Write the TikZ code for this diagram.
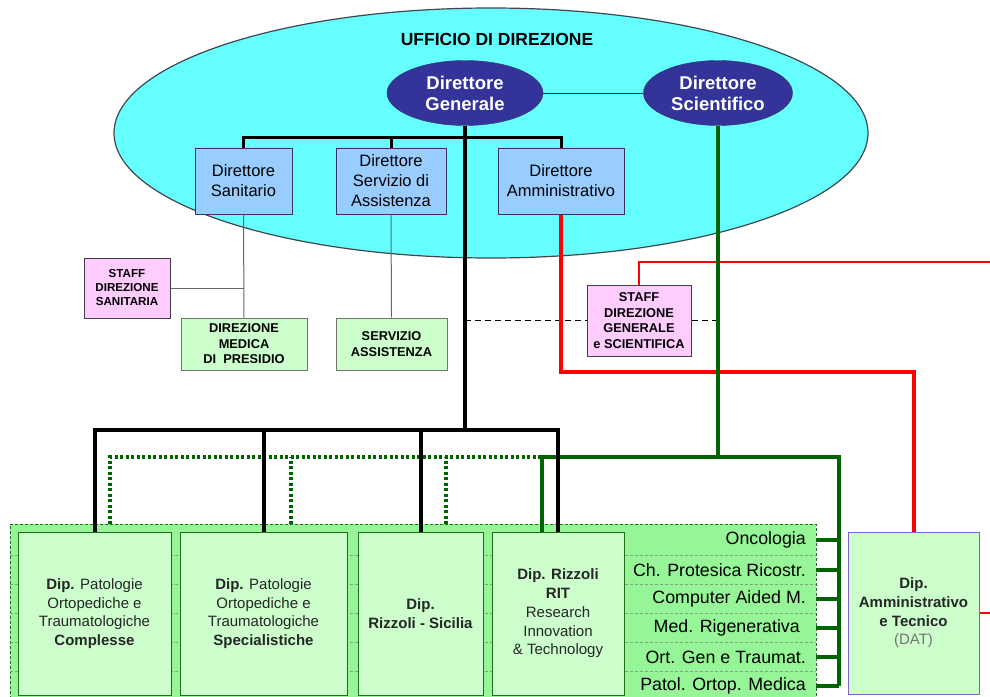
\documentclass[tikz,border=0pt]{standalone}
\usepackage{fontspec}
\setmainfont{Liberation Sans}
\usetikzlibrary{shapes.geometric, positioning, calc}

\definecolor{ufficiocyan}{RGB}{102, 255, 255}
\definecolor{capoblue}{RGB}{51, 51, 153}
\definecolor{dirblue}{RGB}{153, 204, 255}
\definecolor{dirborder}{RGB}{51, 51, 102}
\definecolor{staffpink}{RGB}{255, 204, 255}
\definecolor{unitgreen}{RGB}{204, 255, 204}
\definecolor{contgreen}{RGB}{150, 245, 150}
\definecolor{dipborder}{RGB}{30, 110, 30}
\definecolor{scigreen}{RGB}{0, 100, 0}
\definecolor{ammred}{RGB}{255, 0, 0}
\definecolor{datpurple}{RGB}{130, 100, 200}

\tikzset{
  capo/.style={ellipse, draw=dirborder, fill=capoblue, text=white, align=center, inner sep=0pt, font=\bfseries\fontsize{18.5}{21}\selectfont},
  dirbox/.style={draw=dirborder, fill=dirblue, line width=1pt, align=center, inner sep=0pt, font=\fontsize{16.5}{20}\selectfont},
  staffbox/.style={draw=black!75, fill=staffpink, line width=1pt, align=center, inner sep=0pt},
  unitbox/.style={draw=black!55, fill=unitgreen, line width=1pt, align=center, inner sep=0pt, font=\bfseries\fontsize{12.8}{15.5}\selectfont},
  dipbox/.style={draw=dipborder, fill=unitgreen, line width=1pt, align=center, inner sep=0pt, text=black!85, font=\fontsize{15}{18.7}\selectfont},
  rowlabel/.style={anchor=east, inner sep=0pt, font=\fontsize{17.8}{20}\selectfont},
  trunk/.style={line width=4pt},
  dirline/.style={line width=3pt},
  thinline/.style={line width=1pt, black!60},
  staffdash/.style={line width=1.5pt, dash pattern=on 6pt off 4pt},
  sciline/.style={line width=4pt, scigreen},
  dotline/.style={line width=3.5pt, scigreen, dash pattern=on 3pt off 2.5pt},
  ammline/.style={line width=4pt, ammred},
  staffred/.style={line width=2pt, ammred}
}

\begin{document}
\begin{tikzpicture}[x=1pt, y=-1pt]
  \useasboundingbox (0,0) rectangle (990,696);

  % Ufficio di direzione
  \node[ellipse, draw=black!80!cyan, line width=1.2pt, fill=ufficiocyan, minimum width=754pt, minimum height=250pt, inner sep=0pt] (ufficio) at (491,133) {};
  \node[font=\bfseries\fontsize{17.5}{20}\selectfont] (titolo) at (497,39) {UFFICIO DI DIREZIONE};

  \node[capo, minimum width=156pt, minimum height=65pt] (gen) at (465,93) {Direttore\\Generale};
  \node[capo, minimum width=149pt, minimum height=65pt] (sci) at (718,93) {Direttore\\Scientifico};

  \node[dirbox, minimum width=97pt, minimum height=66pt] (dsan) at (243.5,181) {Direttore\\Sanitario};
  \node[dirbox, minimum width=110pt, minimum height=66pt] (dserv) at (391,181) {Direttore\\Servizio di\\Assistenza};
  \node[dirbox, minimum width=126pt, minimum height=66pt] (damm) at (561,181) {Direttore\\Amministrativo};

  % Staff and services
  \node[staffbox, minimum width=86pt, minimum height=60pt, font=\bfseries\fontsize{11.6}{14}\selectfont] (staffsan) at (127,288) {STAFF\\DIREZIONE\\SANITARIA};
  \node[unitbox, minimum width=126pt, minimum height=52pt] (dirmed) at (244,344) {DIREZIONE\\MEDICA\\DI\ \ PRESIDIO};
  \node[unitbox, minimum width=111pt, minimum height=52pt] (servass) at (391.5,344) {SERVIZIO\\ASSISTENZA};
  \node[staffbox, minimum width=104pt, minimum height=71pt, font=\bfseries\fontsize{12.8}{15.7}\selectfont] (staffgen) at (639,320.5) {STAFF\\DIREZIONE\\GENERALE\\e SCIENTIFICA};

  % Departments
  \node[draw=dipborder, dash pattern=on 3pt off 2pt, fill=contgreen, minimum width=806pt, minimum height=176pt, inner sep=0pt] (dipcont) at (413,612) {};
  \foreach \y in {555,584,613,642,671}
    \draw[dipborder!60, dash pattern=on 3pt off 2pt, line width=0.6pt] (10,\y) -- (816,\y);

  \node[dipbox, minimum width=153pt, minimum height=163pt] (dipA) at (94.5,613.5) {\textbf{Dip.} Patologie\\Ortopediche e\\Traumatologiche\\\textbf{Complesse}};
  \node[dipbox, minimum width=167pt, minimum height=163pt] (dipB) at (263.5,613.5) {\textbf{Dip.} Patologie\\Ortopediche e\\Traumatologiche\\\textbf{Specialistiche}};
  \node[dipbox, minimum width=125pt, minimum height=163pt] (dipC) at (420.5,613.5) {\textbf{Dip.}\\\textbf{Rizzoli - Sicilia}};
  \node[dipbox, minimum width=132pt, minimum height=163pt] (dipD) at (558,613.5) {\textbf{Dip. Rizzoli}\\\textbf{RIT}\\Research\\Innovation\\\& Technology};

  \node[rowlabel] (rowA) at (806,540) {Oncologia};
  \node[rowlabel] (rowB) at (806,570) {Ch. Protesica Ricostr.};
  \node[rowlabel] (rowC) at (806,599) {Computer Aided M.};
  \node[rowlabel] (rowD) at (800,628) {Med. Rigenerativa};
  \node[rowlabel] (rowE) at (806,657) {Ort. Gen e Traumat.};
  \node[rowlabel] (rowF) at (806,686) {Patol. Ortop. Medica};

  \node[dipbox, draw=datpurple, minimum width=131pt, minimum height=162pt] (dat) at (913.5,613) {\textbf{Dip.}\\\textbf{Amministrativo}\\\textbf{e Tecnico}\\\textcolor{black!55}{(DAT)}};

  % Junctions
  \coordinate (busTop) at (465,137);
  \coordinate (busDip) at (465,430);
  \coordinate (busSci) at (718,457);
  \coordinate (rowBus) at (839,457);
  \coordinate (ritIn) at (542,532);
  \coordinate (redBus) at (561,372);
  \coordinate (redTop) at (990,262);
  \coordinate (dotA) at (110,524);
  \coordinate (dotB) at (291,524);
  \coordinate (dotC) at (446,524);

  % Connectors
  \draw[line width=1pt, scigreen!70!black] (gen.east) -- (sci.west);
  \draw[dirline] (dsan.north) -- (dsan.north |- busTop) -- (damm.north |- busTop) -- (damm.north);
  \draw[dirline] (dserv.north) -- (dserv.north |- busTop);

  \draw[thinline] (dsan.south) -- (dirmed.north);
  \draw[thinline] (staffsan.east) -- (staffsan.east -| dsan.south);
  \draw[thinline] (dserv.south) -- (servass.north);

  \draw[staffdash] (gen.south |- staffgen.west) -- (staffgen.west);
  \draw[staffdash] (staffgen.east) -- (sci.south |- staffgen.east);

  \draw[ammline] (damm.south) -- (redBus) -- (dat.north |- redBus) -- (dat.north);
  \draw[staffred] (staffgen.north) -- (staffgen.north |- redTop) -- (redTop);
  \draw[staffred] (dat.east) -- (dat.east -| redTop);

  \draw[dotline] (dotA) -- (dotA |- busSci) -- (ritIn |- busSci);
  \draw[dotline] (dotB) -- (dotB |- busSci);
  \draw[dotline] (dotC) -- (dotC |- busSci);

  \draw[sciline] (sci.south) -- (busSci);
  \draw[sciline] (ritIn) -- (ritIn |- busSci) -- (rowBus) -- (rowBus |- rowF);
  \foreach \r in {rowA,rowB,rowC,rowD,rowE,rowF}
    \draw[sciline] (\r.east -| dipcont.east) -- (\r.east -| rowBus);

  \draw[trunk] (gen.south) -- (busDip);
  \draw[trunk] (dipA.north) -- (dipA.north |- busDip) -- (dipD.north |- busDip) -- (dipD.north);
  \draw[trunk] (dipB.north) -- (dipB.north |- busDip);
  \draw[trunk] (dipC.north) -- (dipC.north |- busDip);
\end{tikzpicture}
\end{document}
